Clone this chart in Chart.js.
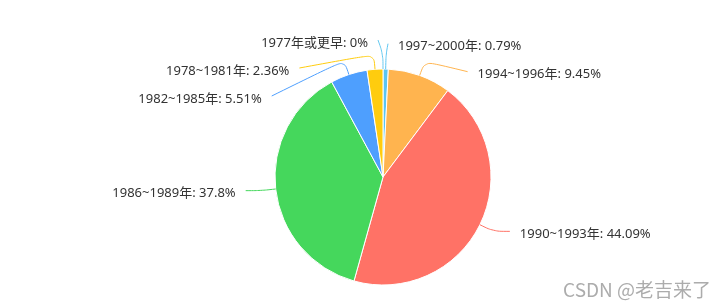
<!DOCTYPE html>
<html><head><meta charset="utf-8">
<script src="https://cdn.jsdelivr.net/npm/chart.js@4"></script>
<style>html,body{margin:0;padding:0;background:#fff;}#wrap{width:725px;height:308px;position:relative;}</style>
</head><body><div id="wrap"><canvas id="c"></canvas></div>
<script>
// ---- data ----
const categories = ['1997~2000年', '1994~1996年', '1990~1993年', '1986~1989年', '1982~1985年', '1978~1981年', '1977年或更早'];
const shares = [0.79, 9.45, 44.09, 37.8, 5.51, 2.36, 0];
const sliceColors = ['#5bc5f2', '#ffb44f', '#ff7266', '#45d75c', '#4e9ffe', '#ffcc0e', '#66c9ef'];
const watermark = 'CSDN @老吉来了';

// ---- label layout (outside labels with leader lines) ----
const LABEL_FONT = '13px "Noto Sans", "Noto Sans CJK SC", sans-serif';
const LEN = 15, LEN2 = 15, SPACING = 28, MIN_Y = 40, TEXT_GAP = 10, SMOOTH = 0.35;

function spread(list) {
  list.sort((a, b) => a.ny - b.ny);
  const groups = list.map(it => ({ m: [it] }));
  const place = g => {
    const mean = g.m.reduce((s, it) => s + it.ny, 0) / g.m.length;
    let top = mean - (g.m.length - 1) * SPACING / 2;
    if (top < MIN_Y) top = MIN_Y;
    g.top = top; g.bot = top + (g.m.length - 1) * SPACING;
  };
  groups.forEach(place);
  let merged = true;
  while (merged) {
    merged = false;
    for (let k = 1; k < groups.length; k++) {
      if (groups[k].top - groups[k - 1].bot < SPACING) {
        groups[k - 1].m = groups[k - 1].m.concat(groups[k].m);
        groups.splice(k, 1); place(groups[k - 1]); merged = true; break;
      }
    }
  }
  groups.forEach(g => g.m.forEach((it, j) => { it.y = g.top + j * SPACING; }));
}

function leaderPath(ctx, a, b, c) {
  const l1 = Math.hypot(a[0] - b[0], a[1] - b[1]);
  const l2 = Math.hypot(c[0] - b[0], c[1] - b[1]);
  ctx.moveTo(a[0], a[1]);
  if (!l1 || !l2) { ctx.lineTo(b[0], b[1]); ctx.lineTo(c[0], c[1]); return; }
  const m = Math.min(l1, l2) * SMOOTH;
  const m0 = [b[0] + (a[0] - b[0]) * m / l1, b[1] + (a[1] - b[1]) * m / l1];
  const m2 = [b[0] + (c[0] - b[0]) * m / l2, b[1] + (c[1] - b[1]) * m / l2];
  const m1 = [(m0[0] + m2[0]) / 2, (m0[1] + m2[1]) / 2];
  ctx.bezierCurveTo(m0[0], m0[1], m0[0], m0[1], m1[0], m1[1]);
  ctx.bezierCurveTo(m2[0], m2[1], m2[0], m2[1], c[0], c[1]);
}

const pieLabels = {
  id: 'pieLabels',
  afterDatasetsDraw(chart) {
    const ctx = chart.ctx;
    const meta = chart.getDatasetMeta(0);
    let cx = 0, cy = 0, r = 0;
    const items = meta.data.map((arc, i) => {
      const p = arc.getProps(['x', 'y', 'startAngle', 'endAngle', 'outerRadius'], true);
      cx = p.x; cy = p.y; r = p.outerRadius;
      const mid = (p.startAngle + p.endAngle) / 2;
      const c = Math.cos(mid), s = Math.sin(mid);
      const p0 = [p.x + c * r, p.y + s * r];
      const p1 = [p.x + c * (r + LEN), p.y + s * (r + LEN)];
      return { i, dir: c < 0 ? -1 : 1, p0, p1, ny: p1[1], y: p1[1] };
    });
    const rA = r + LEN + LEN2;
    [-1, 1].forEach(side => {
      const sideList = items.filter(it => it.dir === side);
      spread(sideList);
      [true, false].forEach(isTop => {
        const sel = sideList.filter(it => (it.y < cy) === isTop);
        if (!sel.length) return;
        const shifted = sel.some(it => Math.abs(it.y - it.ny) > 0.5);
        const rB = shifted ? Math.max(...sel.map(it => Math.abs(it.y - cy))) : rA;
        sel.forEach(it => {
          const dy = Math.abs(it.y - cy);
          let dx = rA * Math.sqrt(Math.max(0, 1 - dy * dy / (rB * rB)));
          dx = Math.max(dx, 5);
          it.ex = cx + side * dx;
        });
      });
    });
    ctx.save();
    ctx.lineWidth = 1;
    items.forEach(it => {
      ctx.strokeStyle = sliceColors[it.i];
      ctx.beginPath();
      leaderPath(ctx, it.p0, it.p1, [it.ex, it.y]);
      ctx.stroke();
    });
    ctx.font = LABEL_FONT;
    ctx.fillStyle = '#333';
    ctx.textBaseline = 'middle';
    items.forEach(it => {
      ctx.textAlign = it.dir < 0 ? 'right' : 'left';
      ctx.fillText(categories[it.i] + ': ' + shares[it.i] + '%', it.ex + it.dir * TEXT_GAP, it.y + 3);
    });
    ctx.font = '19px "Noto Sans CJK SC", sans-serif';
    ctx.fillStyle = '#acacac';
    ctx.textAlign = 'right';
    ctx.fillText(watermark, 711, 290);
    ctx.restore();
  }
};

new Chart(document.getElementById('c'), {
  type: 'pie',
  data: {
    labels: categories,
    datasets: [{
      data: shares,
      backgroundColor: sliceColors,
      borderColor: '#ffffff',
      borderWidth: 1,
      hoverOffset: 0,
      radius: 108
    }]
  },
  options: {
    responsive: true,
    maintainAspectRatio: false,
    animation: false,
    events: [],
    layout: { padding: { left: 200, right: 159, top: 46, bottom: 0 } },
    plugins: { legend: { display: false }, tooltip: { enabled: false } }
  },
  plugins: [pieLabels]
});
</script>
</body></html>
